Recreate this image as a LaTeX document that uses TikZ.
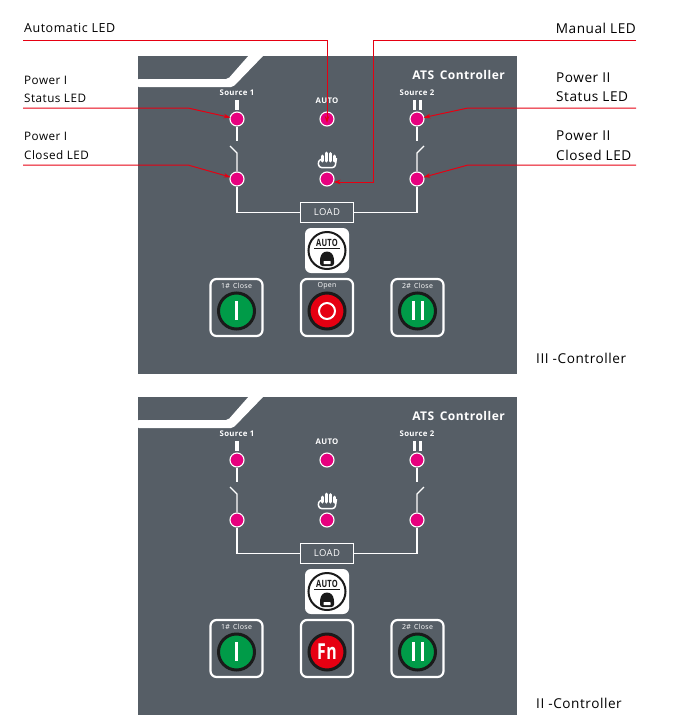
\documentclass[tikz,border=0pt]{standalone}
\usepackage{fontspec}
\setmainfont[LetterSpace=4]{Open Sans}
\usetikzlibrary{arrows.meta,positioning}
\definecolor{panelgray}{HTML}{565E66}
\definecolor{ledpink}{HTML}{E6007E}
\definecolor{leadred}{HTML}{E60012}
\definecolor{btngreen}{HTML}{009B48}
\definecolor{btnblack}{HTML}{1A1A1A}
\tikzset
{
    led/.style = {circle, draw=white, line width=1.1pt, fill=ledpink, minimum size=14pt, inner sep=0pt},
    wire/.style = {draw=white, line width=1.2pt},
    loadbox/.style = {rectangle, draw=white, line width=1.2pt, minimum width=53pt, minimum height=20pt, inner sep=0pt, text=white, font=\fontsize{9.5}{9.5}\selectfont},
    frame/.style = {rectangle, draw=white, line width=2.2pt, rounded corners=6pt, minimum width=52pt, minimum height=57pt},
    autobtn/.style = {rectangle, fill=white, rounded corners=6pt, minimum width=44pt, minimum height=45pt},
    btn/.style = {circle, draw=btnblack, line width=3pt, fill=#1, minimum size=36pt, inner sep=0pt},
    tiny/.style = {text=white, inner sep=0pt, font=\fontsize{7.8}{7.8}\selectfont\bfseries},
    small/.style = {text=white, inner sep=0pt, font=\fontsize{7}{7}\selectfont},
    callout/.style = {inner sep=0pt, font=\fontsize{11.7}{11.7}\selectfont},
    calloutr/.style = {inner sep=0pt, font=\fontsize{13.6}{13.6}\selectfont},
    arrow/.style = {draw=leadred, line width=1pt, -{Stealth[length=7pt,width=4.5pt]}},
}
\begin{document}
\begin{tikzpicture}[x=1pt, y=-1pt]
	\useasboundingbox (0,0) rectangle (679,728);

	% both panels
	\foreach \py/\pn in {0/a,341/b} {
	\begin{scope}[shift={(0,\py)}, name prefix=\pn-]
		\fill[panelgray] (138,56) rectangle (517,374);
		\fill[white, rounded corners=2pt] (137,79) -- (228,79) -- (250,54) -- (265,54) -- (233,87) -- (137,87) -- cycle;
		\node (title) [anchor=east, text=white, inner sep=0pt, font=\fontsize{12}{12}\selectfont\bfseries] at (505,75) {ATS\, Controller};
		\node (src1) [tiny] at (237,93) {Source 1};
		\node (src2) [tiny] at (417,93) {Source 2};
		\node (auto) [tiny] at (327,101) {AUTO};

		\node (ledI) [led] at (237,119) {};
		\node (ledA) [led] at (327,119) {};
		\node (ledII) [led] at (417,119) {};
		\node (closeI) [led] at (237,179) {};
		\node (ledM) [led] at (327,179) {};
		\node (closeII) [led] at (417,179) {};
		\node (load) [loadbox] at (327,212.5) {LOAD};

		% source marks
		\fill[white] (235,100) rectangle (239,110);
		\fill[white] (412.5,100) rectangle (415.5,110);
		\fill[white] (419,100) rectangle (422,110);

		% switch legs
		\coordinate (topI) at (237,141);
		\coordinate (topII) at (417,141);
		\coordinate (kneeI) at (237,153);
		\coordinate (kneeII) at (417,153);
		\coordinate (tipI) at (230,146);
		\coordinate (tipII) at (424,146);
		\draw [wire] (ledI) -- (topI);
		\draw [wire] (ledII) -- (topII);
		\draw [wire] (closeI) -- (kneeI) -- (tipI);
		\draw [wire] (closeII) -- (kneeII) -- (tipII);
		\draw [wire] (closeI) |- (load.west);
		\draw [wire] (closeII) |- (load.east);

		% hand
		\draw[white, line width=1.5pt, rounded corners=2.5pt] (322,159) -- (318,161) -- (319,167.5) -- (335,167.5) -- (336.5,158);
		\foreach \fx/\ft in {322.5/156,326.5/153,330.5/153.5,334.5/156}
			\draw[white, line width=3pt, line cap=round] (\fx,\ft) -- (\fx,161);

		% auto selector
		\node (sel) [autobtn] at (327,250.5) {};
		\node (selring) [circle, draw=btnblack, line width=2pt, minimum size=37pt, inner sep=0pt] at (327,250.5) {};
		\node (seltxt) [inner sep=0pt, text=btnblack, xscale=0.75, font=\fontsize{10}{10}\selectfont\bfseries] at (327,243) {AUTO};
		\draw[btnblack, line width=1pt] (314,248.5) -- (340,248.5);
		\fill[btnblack, rounded corners=2.5pt] (320,266) -- (320,258) -- (322,253) -- (327,251) -- (332,253) -- (334,258) -- (334,266) -- cycle;
		\fill[white, rounded corners=0.5pt] (323.5,261) rectangle (330.5,264);

		% buttons
		\node (frI) [frame] at (236.5,307.5) {};
		\node (frO) [frame] at (327,307.5) {};
		\node (frII) [frame] at (417.5,307.5) {};
		\node (btnI) [btn=btngreen] at (236.5,311) {};
		\node (btnII) [btn=btngreen] at (417.5,311) {};
		\node (lblI) [small] at (236.5,286) {1\#\, Close};
		\node (lblII) [small] at (417.5,286) {2\#\, Close};
		\fill[white] (235,301) rectangle (238,320);
		\fill[white] (411.5,301) rectangle (414.5,320);
		\fill[white] (420.5,301) rectangle (423.5,320);
	\end{scope}
	}

	% centre buttons differ
	\node (a-btnO) [btn=leadred] at (327,311) {};
	\node (a-lblO) [small] at (327,285.5) {Open};
	\node (a-ring) [circle, draw=white, line width=2pt, minimum size=16pt, inner sep=0pt] at (327,311) {};
	\node (b-btnF) [btn=leadred] at (327,652) {};
	\node (b-fn) [text=white, inner sep=0pt, xscale=0.72, font=\fontsize{22}{22}\selectfont\bfseries] at (327,652) {Fn};

	% callouts
	\node (tAuto) [anchor=west, inner sep=0pt, font=\fontsize{12.5}{12.5}\selectfont] at (24,28) {Automatic LED};
	\node (tMan) [calloutr, anchor=east] at (636,28) {Manual LED};
	\node (tPI) [callout, anchor=west] at (24,80) {Power I};
	\node (tSI) [callout, anchor=west] at (24,98) {Status LED};
	\node (tPIb) [callout, anchor=west] at (24,136) {Power I};
	\node (tCI) [callout, anchor=west] at (24,155) {Closed LED};
	\node (tPII) [calloutr, anchor=west] at (556,78) {Power II};
	\node (tSII) [calloutr, anchor=west] at (556,97) {Status LED};
	\node (tPIIb) [calloutr, anchor=west] at (556,136) {Power II};
	\node (tCII) [calloutr, anchor=west] at (556,155) {Closed LED};
	\node (tIII) [calloutr, anchor=west] at (536,358) {III -Controller};
	\node (tII) [calloutr, anchor=west] at (536,703) {II -Controller};

	\coordinate (s1) at (23,40);
	\coordinate (k1) at (327,40);
	\coordinate (s2) at (636,40);
	\coordinate (k2) at (373,40);
	\coordinate (k2b) at (373,182);
	\coordinate (s3) at (23,108);
	\coordinate (k3) at (188,108);
	\coordinate (s4) at (23,165);
	\coordinate (k4) at (188,165);
	\coordinate (s5) at (636,108);
	\coordinate (k5) at (468,108);
	\coordinate (s6) at (636,165);
	\coordinate (k6) at (468,165);

	\draw [arrow, shorten >=-4pt] (s1) -- (k1) -- (a-ledA.center);
	\draw [arrow, shorten >=-1pt] (s2) -- (k2) -- (k2b) -- (a-ledM.east |- k2b);
	\draw [arrow, shorten >=-1pt] (s3) -- (k3) -- (a-ledI);
	\draw [arrow, shorten >=-1pt] (s4) -- (k4) -- (a-closeI);
	\draw [arrow, shorten >=-1pt] (s5) -- (k5) -- (a-ledII);
	\draw [arrow, shorten >=-1pt] (s6) -- (k6) -- (a-closeII);
\end{tikzpicture}
\end{document}
